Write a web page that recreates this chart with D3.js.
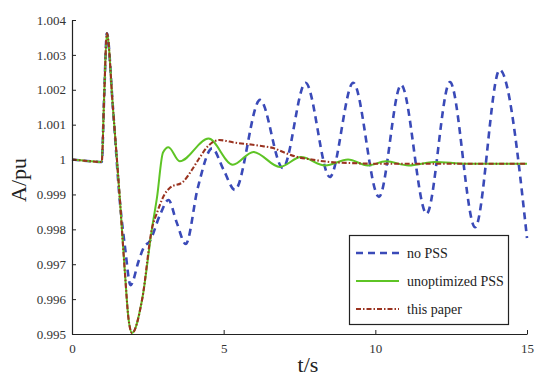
<!DOCTYPE html>
<html>
<head>
<meta charset="utf-8">
<script src="https://cdn.jsdelivr.net/npm/d3@7"></script>
<style>
  body { margin: 0; background: #fff; }
</style>
</head>
<body>
<svg id="chart"></svg>
<script>
// Chart size
const width = 550;
const height = 383;
const serif = "Liberation Serif";

// Time samples (s) and values (pu)
const noPssT = [0, 0.5, 0.98, 1.06, 1.15, 1.35, 1.58, 1.75, 1.93, 2.2, 2.36, 2.57, 2.9, 3.18, 3.45, 3.75, 4.15, 4.62, 5.0, 5.37,
  6.2, 6.95, 7.7, 8.5, 9.27, 10.12, 10.85, 11.69, 12.46, 13.29, 14.1, 15];
const noPssV = [1.0, 0.99996, 0.99993, 1.0018, 1.00362, 1.00148, 0.99878, 0.99747, 0.9964, 0.9971, 0.99747, 0.99767, 0.99841, 0.99884, 0.9982, 0.99758, 0.9992, 1.00032, 0.9997, 0.99913,
  1.00171, 0.99976, 1.0022, 0.9995, 1.0022, 0.99893, 1.00214, 0.99845, 1.00222, 0.99806, 1.00257, 0.99775];

const unoptT = [0, 0.5, 0.98, 1.06, 1.15, 1.35, 1.58, 1.75, 1.86, 1.98, 2.31, 2.64, 2.8, 3.0, 3.18, 3.55, 4.5, 5.3, 5.98,
  6.85, 7.55, 8.35, 9.1, 9.75, 10.35, 11.1, 11.95, 13, 15];
const unoptV = [1.0, 0.99996, 0.99993, 1.0018, 1.00362, 1.00148, 0.99884, 0.99669, 0.99546, 0.99503, 0.99598, 0.99804, 0.9989, 1.0002, 1.00035, 0.99995, 1.0006, 0.99985, 1.00022,
  0.99979, 1.00007, 0.99983, 1.0, 0.99983, 0.99995, 0.99983, 0.99993, 0.99988, 0.99988];

const paperT = [0, 0.5, 0.98, 1.06, 1.15, 1.35, 1.58, 1.75, 1.86, 1.98, 2.31, 2.64, 2.8, 3.05, 3.23, 3.66, 3.95, 4.22, 4.5, 4.85,
  5.4, 5.9, 6.3, 6.63, 7.0, 7.4, 7.9, 8.5, 9.2, 10, 15];
const paperV = [1.0, 0.99996, 0.99993, 1.0018, 1.00362, 1.00148, 0.99884, 0.99669, 0.99546, 0.99503, 0.99598, 0.99804, 0.99847, 0.999, 0.99919, 0.99936, 0.9997, 1.00007, 1.0004, 1.00056,
  1.00048, 1.00043, 1.00038, 1.00033, 1.0002, 1.00008, 1.0, 0.99993, 0.9999, 0.99988, 0.99988];

// Axis ticks
const xTicks = [0, 5, 10, 15];
const yTicks = [0.995, 0.996, 0.997, 0.998, 0.999, 1.0, 1.001, 1.002, 1.003, 1.004];
const yTickLabels = ["0.995", "0.996", "0.997", "0.998", "0.999", "1", "1.001", "1.002", "1.003", "1.004"];

const legendNames = ["no PSS", "unoptimized PSS", "this paper"];

// Plot area
const margin = { top: 20, right: 23, bottom: 49, left: 72 };

const svg = d3.select("#chart")
  .attr("width", width)
  .attr("height", height)
  .attr("font-family", serif);

const x = d3.scaleLinear()
  .domain([0, 15])
  .range([margin.left, width - margin.right]);

const y = d3.scaleLinear()
  .domain([0.995, 1.004])
  .range([height - margin.bottom, margin.top]);

// Line styles for each series
const series = [
  { t: noPssT, v: noPssV, color: "#3a4ab8", width: 2.6, dash: "7,5" },
  { t: unoptT, v: unoptV, color: "#5ec425", width: 2, dash: null },
  { t: paperT, v: paperV, color: "#9a3320", width: 2.1, dash: "5,2,1.5,2" }
];

const line = d3.line()
  .x(d => x(d[0]))
  .y(d => y(d[1]))
  .curve(d3.curveMonotoneX);

series.forEach(s => {
  svg.append("path")
    .datum(d3.zip(s.t, s.v))
    .attr("fill", "none")
    .attr("stroke", s.color)
    .attr("stroke-width", s.width)
    .attr("stroke-dasharray", s.dash)
    .attr("d", line);
});

// Axes with inward ticks
const xAxis = svg.append("g")
  .attr("transform", `translate(0,${height - margin.bottom})`)
  .call(d3.axisBottom(x).tickValues(xTicks).tickSizeInner(-4).tickSizeOuter(0).tickPadding(10));

const yAxis = svg.append("g")
  .attr("transform", `translate(${margin.left},0)`)
  .call(d3.axisLeft(y).tickValues(yTicks).tickFormat((d, i) => yTickLabels[i])
    .tickSizeInner(-4).tickSizeOuter(0).tickPadding(6));

[xAxis, yAxis].forEach(g => {
  g.attr("font-family", serif).attr("font-size", 13);
  g.select(".domain").attr("stroke", "#222").attr("stroke-width", 1.2);
  g.selectAll(".tick line").attr("stroke", "#222");
  g.selectAll(".tick text").attr("fill", "#333");
});

// Axis titles
svg.append("text")
  .attr("x", 308)
  .attr("y", 372)
  .attr("text-anchor", "middle")
  .attr("font-size", 22)
  .attr("fill", "#222")
  .text("t/s");

svg.append("text")
  .attr("transform", "translate(26,180) rotate(-90)")
  .attr("text-anchor", "middle")
  .attr("font-size", 22)
  .attr("fill", "#222")
  .text("A/pu");

// Legend
const legend = svg.append("g");
legend.append("rect")
  .attr("x", 349.5)
  .attr("y", 235.5)
  .attr("width", 159)
  .attr("height", 89)
  .attr("fill", "#fff")
  .attr("stroke", "#222")
  .attr("stroke-width", 1.2);

legendNames.forEach((name, i) => {
  const ly = 253 + i * 28;
  legend.append("line")
    .attr("x1", 356).attr("x2", 399)
    .attr("y1", ly).attr("y2", ly)
    .attr("stroke", series[i].color)
    .attr("stroke-width", series[i].width)
    .attr("stroke-dasharray", series[i].dash);
  legend.append("text")
    .attr("x", 407)
    .attr("y", ly + 5)
    .attr("font-size", 14)
    .attr("fill", "#222")
    .text(name);
});
</script>
</body>
</html>
